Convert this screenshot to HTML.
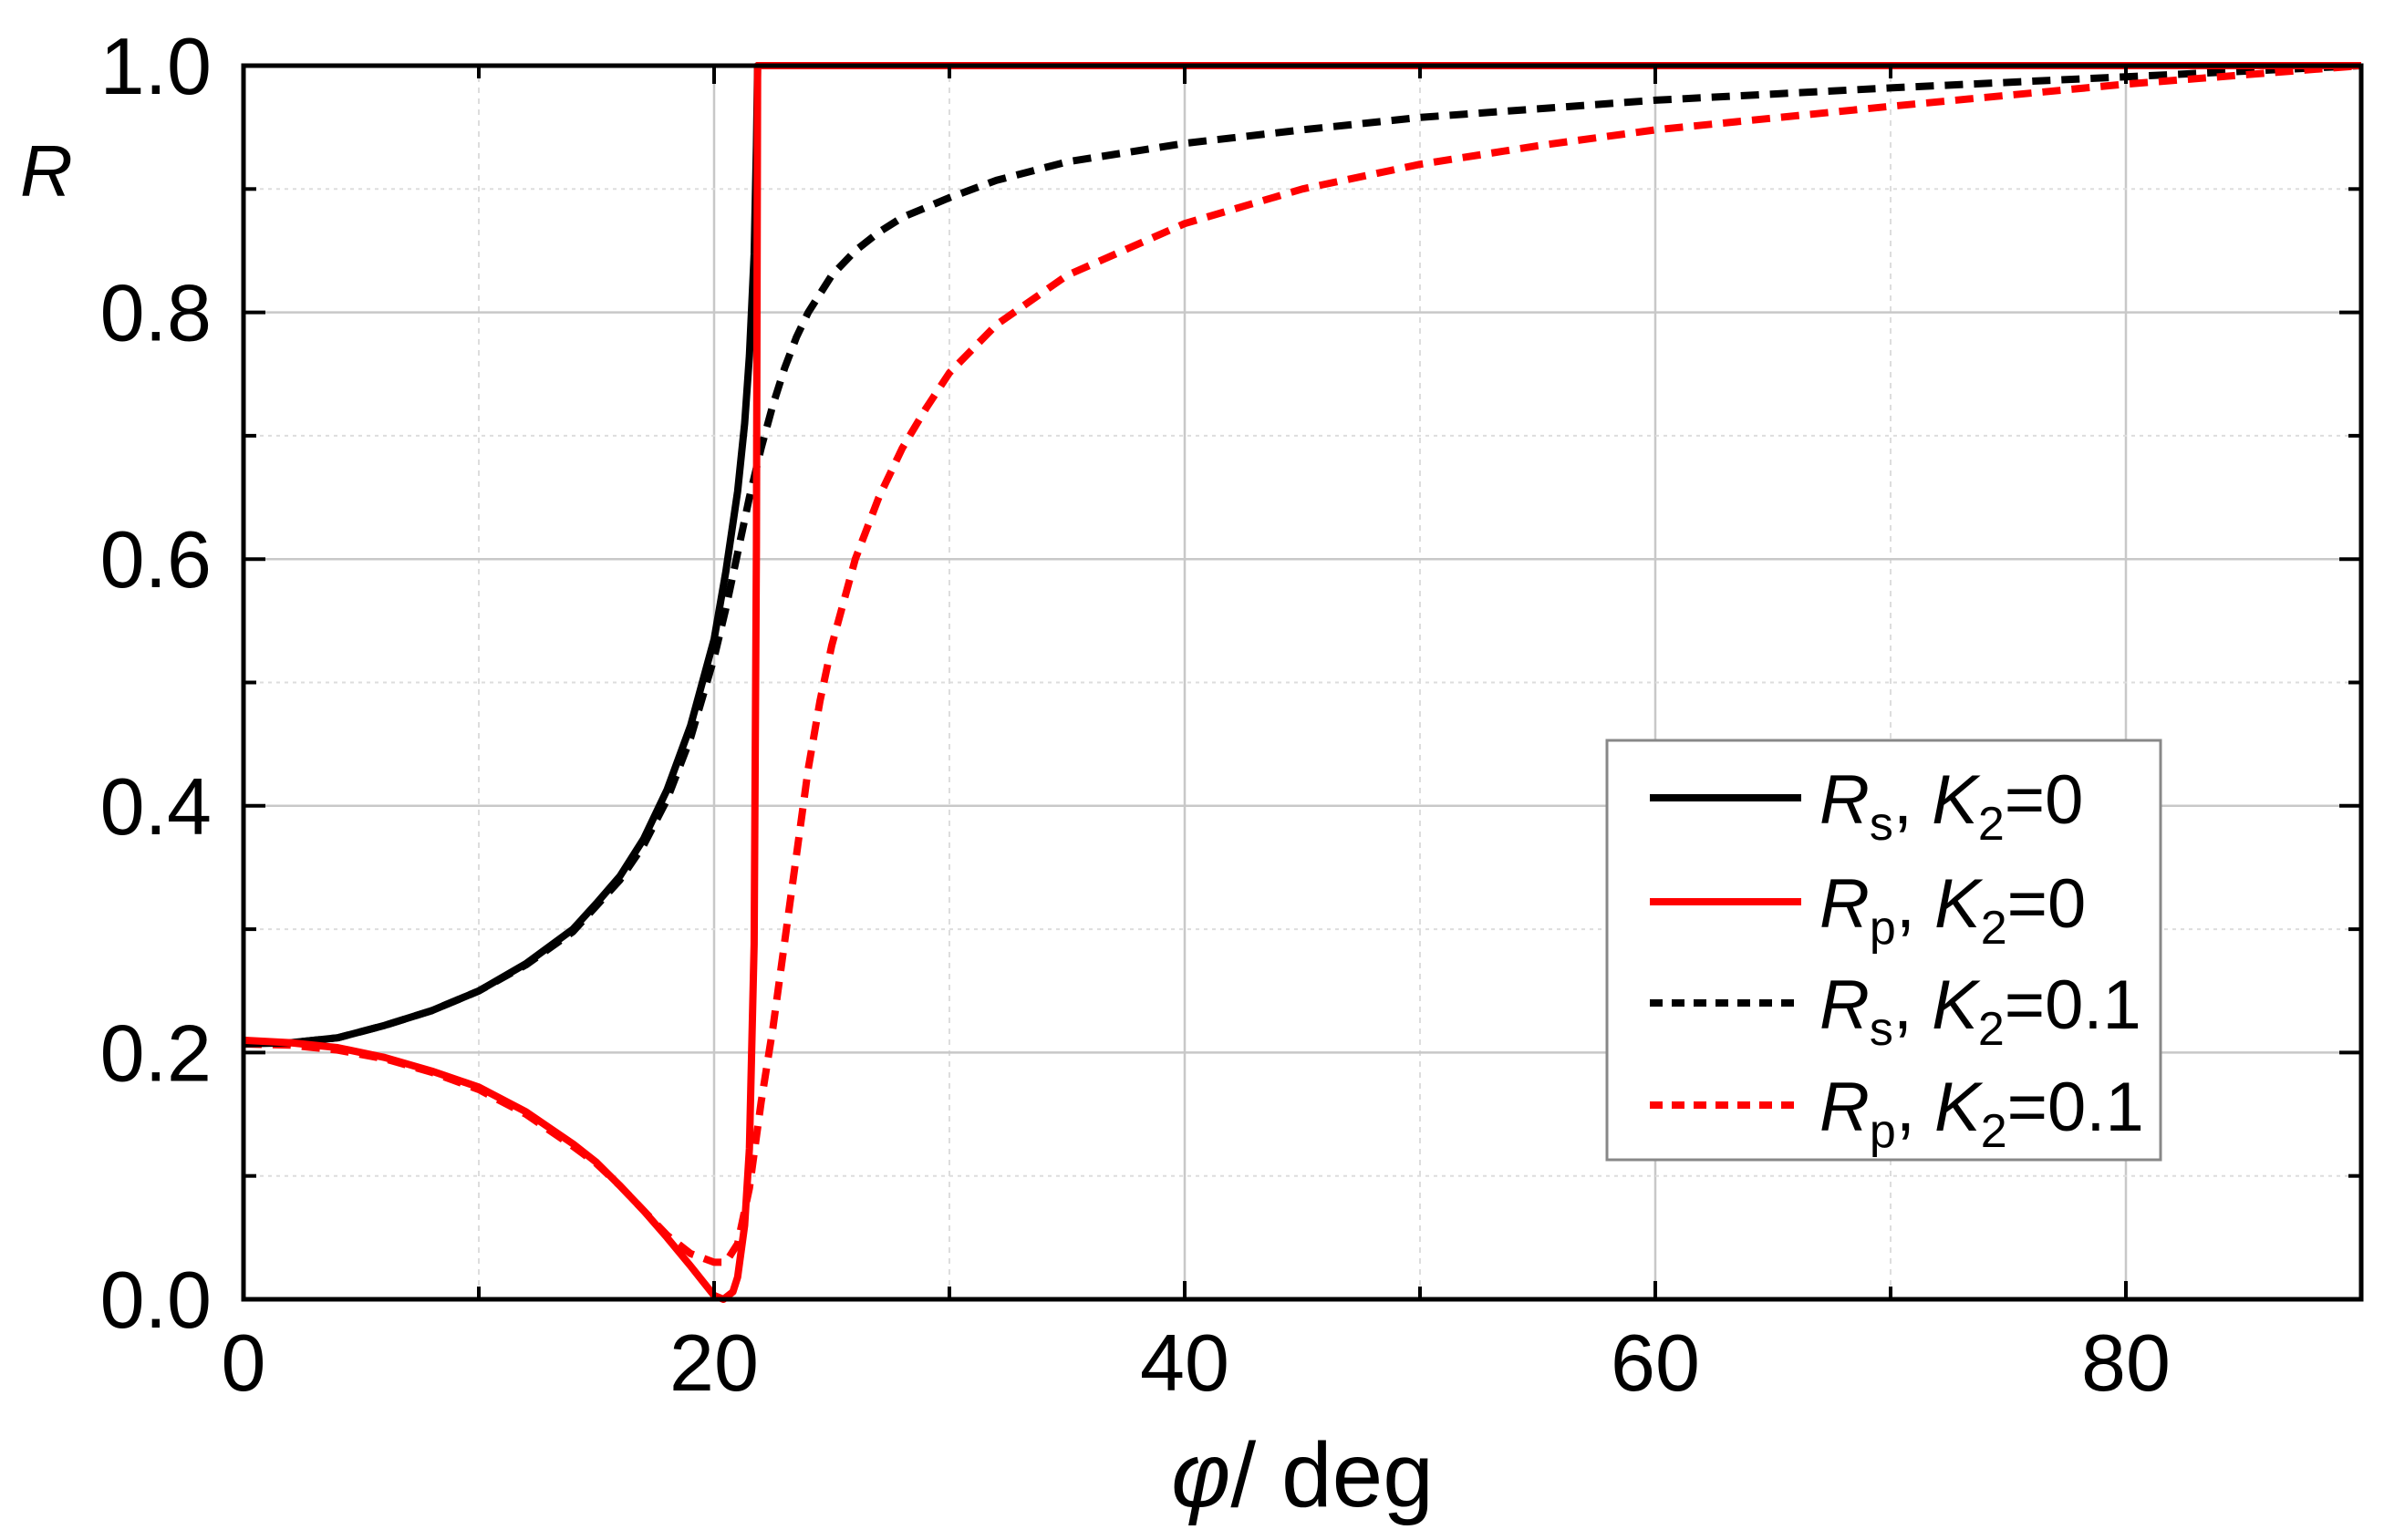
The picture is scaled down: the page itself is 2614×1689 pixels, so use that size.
<!DOCTYPE html>
<html><head><meta charset="utf-8"><style>
html,body{margin:0;padding:0;background:#fff;}
svg{display:block;font-family:"Liberation Sans",Arial,sans-serif;}
</style></head><body>
<svg id="chart" width="2614" height="1689" viewBox="0 0 2614 1689" xmlns="http://www.w3.org/2000/svg">
<g id="grid"></g>
<g id="series"></g>
<g id="axes"></g>
<text x="22" y="215" font-size="80" font-style="italic">R</text>
<text x="1428" y="1652" font-size="100" text-anchor="middle"><tspan font-style="italic">φ</tspan>/ deg</text>
<g>
<rect x="1762" y="812" width="607" height="460" fill="#fff" stroke="#888" stroke-width="3"/>
<g>
<line x1="1809" y1="875" x2="1975" y2="875" stroke="#000" stroke-width="8"/>
<text x="1995" y="903" font-size="76" font-style="italic">R<tspan font-style="normal" font-size="52" dy="18">s</tspan><tspan font-style="normal" dy="-18">, </tspan>K<tspan font-style="normal" font-size="52" dy="18">2</tspan><tspan font-style="normal" dy="-18">=0</tspan></text></g>
<g>
<line x1="1809" y1="989" x2="1975" y2="989" stroke="#f00" stroke-width="8"/>
<text x="1995" y="1017" font-size="76" font-style="italic">R<tspan font-style="normal" font-size="52" dy="18">p</tspan><tspan font-style="normal" dy="-18">, </tspan>K<tspan font-style="normal" font-size="52" dy="18">2</tspan><tspan font-style="normal" dy="-18">=0</tspan></text></g>
<g>
<line x1="1809" y1="1100" x2="1975" y2="1100" stroke="#000" stroke-width="8" stroke-dasharray="14 10"/>
<text x="1995" y="1128" font-size="76" font-style="italic">R<tspan font-style="normal" font-size="52" dy="18">s</tspan><tspan font-style="normal" dy="-18">, </tspan>K<tspan font-style="normal" font-size="52" dy="18">2</tspan><tspan font-style="normal" dy="-18">=0.1</tspan></text></g>
<g>
<line x1="1809" y1="1212" x2="1975" y2="1212" stroke="#f00" stroke-width="8" stroke-dasharray="14 10"/>
<text x="1995" y="1240" font-size="76" font-style="italic">R<tspan font-style="normal" font-size="52" dy="18">p</tspan><tspan font-style="normal" dy="-18">, </tspan>K<tspan font-style="normal" font-size="52" dy="18">2</tspan><tspan font-style="normal" dy="-18">=0.1</tspan></text></g>
</g>
</svg>
<script>
const xTicks=[0,20,40,60,80];
const xMinor=[10,30,50,70,90];
const yTicks=[0.0,0.2,0.4,0.6,0.8,1.0];
const yMinor=[0.1,0.3,0.5,0.7,0.9];
const yTickLabels=["0.0","0.2","0.4","0.6","0.8","1.0"];
const rsK0X=[0,2,4,6,8,10,12,14,15,16,17,18,19,20,20.5,21,21.3,21.5,21.7,21.8,21.85,22,30,50,70,90];
const rsK0Y=[0.207,0.208,0.212,0.222,0.234,0.25,0.272,0.3,0.321,0.343,0.373,0.413,0.465,0.535,0.59,0.655,0.71,0.765,0.847,0.935,1.0,1.0,1.0,1.0,1.0,1.0];
const rpK0X=[0,2,4,6,8,10,12,14,15,16,17,18,19,19.5,20,20.4,20.8,21,21.3,21.5,21.7,21.8,21.85,22,30,50,70,90];
const rpK0Y=[0.21,0.208,0.204,0.196,0.185,0.172,0.152,0.126,0.111,0.092,0.072,0.05,0.027,0.015,0.003,0.0,0.006,0.018,0.06,0.122,0.288,0.61,1.0,1.0,1.0,1.0,1.0,1.0];
const rsK1X=[0,2,4,6,8,10,12,14,15,16,17,18,19,20,20.5,21,21.5,22,22.5,23,23.5,24,25,26,27,28,30,32,35,40,45,50,55,60,70,80,90];
const rsK1Y=[0.207,0.208,0.212,0.222,0.234,0.25,0.271,0.298,0.319,0.34,0.368,0.405,0.455,0.52,0.56,0.605,0.65,0.69,0.725,0.755,0.78,0.8,0.83,0.85,0.865,0.877,0.893,0.907,0.922,0.937,0.948,0.958,0.965,0.972,0.982,0.991,1.0];
const rpK1X=[0,2,4,6,8,10,12,14,15,16,17,18,19,20,20.5,21,21.5,22,22.5,23,23.5,24,24.5,25,26,27,28,29,30,32,35,40,45,50,55,60,70,80,90];
const rpK1Y=[0.207,0.206,0.202,0.195,0.184,0.17,0.15,0.124,0.11,0.092,0.072,0.052,0.037,0.03,0.03,0.045,0.09,0.16,0.22,0.29,0.36,0.43,0.485,0.53,0.6,0.65,0.69,0.722,0.751,0.79,0.83,0.872,0.9,0.92,0.935,0.948,0.967,0.985,1.0];

const NS="http://www.w3.org/2000/svg";
const L=267,R=2589,T=72,B=1425;
function sx(v){return L+(v/90)*(R-L);}
function sy(v){return B-v*(B-T);}
function mk(tag,attrs,parent){const e=document.createElementNS(NS,tag);for(const k in attrs)e.setAttribute(k,attrs[k]);parent.appendChild(e);return e;}
const grid=document.getElementById('grid'),axes=document.getElementById('axes'),series=document.getElementById('series');
xTicks.forEach(v=>{if(v===0)return;const e=mk('line',{x1:sx(v),x2:sx(v),y1:T,y2:B,stroke:'#c8c8c8','stroke-width':2.5},grid);

});
xMinor.forEach(v=>{if(v>=90)return;const e=mk('line',{x1:sx(v),x2:sx(v),y1:T,y2:B,stroke:'#ddd','stroke-width':2,'stroke-dasharray':'6 6'},grid);

});
yTicks.forEach(v=>{if(v===0||v===1)return;const e=mk('line',{x1:L,x2:R,y1:sy(v),y2:sy(v),stroke:'#c8c8c8','stroke-width':2.5},grid);

});
yMinor.forEach(v=>{const e=mk('line',{x1:L,x2:R,y1:sy(v),y2:sy(v),stroke:'#ddd','stroke-width':2,'stroke-dasharray':'4 5'},grid);

});
function path(xs,ys,color,dash,name){let d='';for(let i=0;i<xs.length;i++)d+=(i?'L':'M')+sx(xs[i]).toFixed(1)+','+sy(ys[i]).toFixed(1);
const a={d:d,fill:'none',stroke:color,'stroke-width':8,'stroke-linejoin':'round'};if(dash)a['stroke-dasharray']=dash;
const e=mk('path',a,series);

}
path(rsK1X,rsK1Y,'#000','20 12','series-rs-k01');
path(rpK1X,rpK1Y,'#f00','20 12','series-rp-k01');
path(rsK0X,rsK0Y,'#000',null,'series-rs-k0');
path(rpK0X,rpK0Y,'#f00',null,'series-rp-k0');
const frame=mk('rect',{x:L,y:T,width:R-L,height:B-T,fill:'none',stroke:'#000','stroke-width':5},axes);


xTicks.concat(xMinor).forEach(v=>{const len=xTicks.includes(v)?20:14;
[[B,B-len],[T,T+len]].forEach(p=>{const e=mk('line',{x1:sx(v),x2:sx(v),y1:p[0],y2:p[1],stroke:'#000','stroke-width':4},axes);

});});
yTicks.concat(yMinor).forEach(v=>{const len=yTicks.includes(v)?24:14;
[[L,L+len],[R,R-len]].forEach(p=>{const e=mk('line',{x1:p[0],x2:p[1],y1:sy(v),y2:sy(v),stroke:'#000','stroke-width':4},axes);

});});
xTicks.forEach(v=>{const t=mk('text',{x:sx(v),y:1525,'font-size':88,'text-anchor':'middle'},axes);t.textContent=String(v);

});
yTicks.forEach((v,i)=>{const t=mk('text',{x:232,y:sy(v)+31,'font-size':88,'text-anchor':'end'},axes);t.textContent=yTickLabels[i];

});
</script>
</body></html>
